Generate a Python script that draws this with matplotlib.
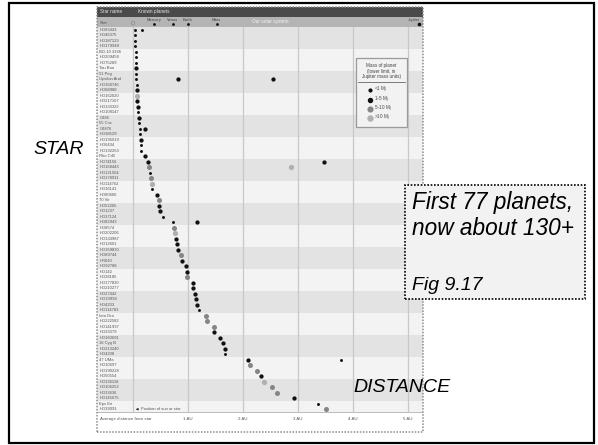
import matplotlib
matplotlib.use("Agg")
import matplotlib.pyplot as plt
from matplotlib.patches import Rectangle
from matplotlib.lines import Line2D

plt.rcParams['font.family'] = ['Liberation Sans', 'DejaVu Sans']

W, H = 598, 445

# ---------------- data ----------------
star_names = [
    "HD83443", "HD46375", "HD187123", "HD179949", "BD-10 3166", "HD209458",
    "HD75289", "Tau Boo", "51 Peg", "Upsilon And", "HD168746", "HD68988",
    "HD162020", "HD217107", "HD130322", "HD108147", "GJ86", "55 Cnc",
    "GJ876", "HD38529", "HD195019", "HD6434", "HD192263", "Rho CrB",
    "HD74156", "HD168443", "HD121504", "HD178911", "HD114762", "HD16141",
    "HD80606", "70 Vir", "HD52265", "HD1237", "HD37124", "HD82943",
    "HD8574", "HD202206", "HD134987", "HD12661", "HD169830", "HD89744",
    "HR810", "HD92788", "HD142", "HD28185", "HD177830", "HD210277",
    "HD27442", "HD19994", "HD4203", "HD114783", "Iota Dra", "HD222582",
    "HD141937", "HD23079", "HD160691", "16 Cyg B", "HD213240", "HD4208",
    "47 UMa", "HD10697", "HD190228", "HD50554", "HD136118", "HD106252",
    "HD33636", "HD145675", "Eps Eri", "HD39091",
]
# semi-major axes (AU) of the planets of each star
planet_au = [
    [0.04, 0.17], [0.04], [0.04], [0.045], [0.046], [0.046],
    [0.046], [0.05], [0.05], [0.06, 0.82, 2.55], [0.065], [0.07],
    [0.07], [0.07], [0.09], [0.10], [0.11], [0.11],
    [0.13, 0.21], [0.13], [0.14], [0.15], [0.15], [0.22],
    [0.27, 3.47], [0.29, 2.87], [0.31], [0.32], [0.35], [0.34],
    [0.43], [0.47], [0.48], [0.49], [0.54], [0.72, 1.16],
    [0.75], [0.76], [0.78], [0.80], [0.82], [0.87],
    [0.90], [0.96], [0.98], [0.99], [1.09], [1.10],
    [1.12], [1.14], [1.17], [1.20], [1.33], [1.35],
    [1.47], [1.47], [1.59], [1.64], [1.67], [1.68],
    [2.09, 3.79], [2.12], [2.25], [2.32], [2.38], [2.53],
    [2.62], [2.93], [3.36], [3.50],
]
# mass class: 0: <1 MJ, 1: 1-5 MJ, 2: 5-10 MJ, 3: >10 MJ
planet_mass = [
    [0, 0], [0], [0], [0], [0], [0],
    [0], [1], [0], [0, 1, 1], [0], [1],
    [3], [1], [1], [0], [1], [0],
    [0, 1], [0], [1], [0], [0], [1],
    [1, 1], [2, 3], [0], [2], [3], [0],
    [1], [2], [1], [1], [0], [0, 1],
    [2], [3], [1], [1], [1], [2],
    [1], [1], [1], [2], [1], [1],
    [1], [1], [1], [0], [2], [2],
    [2], [1], [1], [1], [1], [0],
    [1, 0], [2], [2], [1], [3], [2],
    [2], [1], [0], [2],
]
solar_names = ["Mercury", "Venus", "Earth", "Mars", "Jupiter"]
solar_au = [0.39, 0.72, 1.0, 1.52, 5.2]
au_ticks = [1, 2, 3, 4, 5]
au_tick_labels = ["1 AU", "2 AU", "3 AU", "4 AU", "5 AU"]
mass_labels = ["<1 M$_J$", "1\u20135 M$_J$", "5\u201310 M$_J$", ">10 M$_J$"]

# ---------------- styles ----------------
mass_color = ["#111111", "#111111", "#858585", "#b0b0b0"]
mass_size = [4.5, 9.5, 13.0, 14.5]

fig = plt.figure(figsize=(W / 100, H / 100), dpi=100)


def fx(px):
    return px / W


def fy(py):
    return 1 - py / H


# chart axes: x in AU, y in rows
L, R, T, B = 97, 423, 7, 432
ax = fig.add_axes([fx(L), fy(B), (R - L) / W, (B - T) / H])
ax.set_xlim(-0.6545, 5.2727)
ax.set_ylim(73.636, -3.636)
ax.axis("off")

n = len(star_names)

# alternating bands of four rows
for k in range((n + 3) // 4):
    top = 4 * k
    bot = min(4 * k + 4, n)
    ax.axhspan(top, bot, color="#e3e3e3" if k % 2 == 0 else "#f3f3f3", lw=0, zorder=0)

# header bars
ax.axhspan(-3.636, -1.85, color="#4a4a4a", lw=0, zorder=0)
ax.axhspan(-1.85, 0, color="#b4b4b4", lw=0, zorder=0)
ax.axhline(n, color="#b0b0b0", lw=0.6, zorder=1)

# vertical grid lines (star position + AU)
for t in [0] + au_ticks:
    ax.plot([t, t], [0, n], color="#c8c8c8", lw=0.9, zorder=1)

# planets
for i, (aus, ms) in enumerate(zip(planet_au, planet_mass)):
    for a, m in zip(aus, ms):
        ax.scatter(a, i + 0.5, s=mass_size[m], color=mass_color[m], lw=0, zorder=3)

# star names
for i, name in enumerate(star_names):
    ax.text(-0.61, i + 0.5, name, fontsize=3.0, color="#555555", va="center", ha="left")

# header text
ax.text(-0.60, -2.75, "Star name", fontsize=3.4, color="#e6e6e6", va="center")
ax.text(0.10, -2.75, "Known planets", fontsize=3.4, color="#e6e6e6", va="center")
ax.text(-0.60, -0.75, "Star", fontsize=3.2, color="#555555", va="center")
ax.scatter(0, -0.7, s=6, facecolor="none", edgecolor="#8a8a8a", lw=0.5, zorder=3)
for nm, a in zip(solar_names, solar_au):
    if nm == "Jupiter":
        ax.text(a + 0.02, -1.35, nm, fontsize=3.0, color="#444444", ha="right", va="center")
        ax.scatter(a, -0.55, s=7, color="#111111", lw=0, zorder=3)
    else:
        ax.text(a, -1.35, nm, fontsize=3.0, color="#444444", ha="center", va="center")
        ax.scatter(a, -0.55, s=4, color="#111111", lw=0, zorder=3)
ax.text(2.5, -1.0, "Our solar system", fontsize=3.4, color="#f5f5f5", ha="center", va="center")

# x-axis labels
ax.text(-0.60, 71.3, "Average distance from star", fontsize=3.2, color="#555555", va="center")
for t, lab in zip(au_ticks, au_tick_labels):
    ax.text(t, 71.3, lab, fontsize=3.2, color="#555555", ha="center", va="center")

# position of sun or star note (last row)
ax.annotate("", xy=(0.0, n - 0.5), xytext=(0.13, n - 0.5),
            arrowprops=dict(arrowstyle="-|>", color="#222222", lw=0.5, mutation_scale=3))
ax.text(0.15, n - 0.5, "Position of sun or star", fontsize=3.0, color="#555555", va="center")

# dotted border of the chart
fig.patches.append(Rectangle((fx(L), fy(B)), (R - L) / W, (B - T) / H,
                             transform=fig.transFigure, fill=False,
                             edgecolor="#8c8c8c", lw=1.1, linestyle=(0, (1, 1)), zorder=5))

# legend box (mass of planet)
lx0, lx1, ly0, ly1 = 356, 407, 58, 127
fig.patches.append(Rectangle((fx(lx0), fy(ly1)), (lx1 - lx0) / W, (ly1 - ly0) / H,
                             transform=fig.transFigure, facecolor="#f2f2f2",
                             edgecolor="#9a9a9a", lw=0.9, zorder=6))
for txt, yy in zip(["Mass of planet", "(lower limit, in", "Jupiter mass units)"], [65, 71, 76.5]):
    fig.text(fx(381.5), fy(yy), txt, fontsize=3.3, color="#444444", ha="center", va="center", zorder=7)
fig.lines.append(Line2D([fx(358), fx(405)], [fy(81.5), fy(81.5)], transform=fig.transFigure,
                        color="#666666", lw=0.6, zorder=7))
for m, (lab, yy) in enumerate(zip(mass_labels, [90, 99.5, 109, 118])):
    fig.lines.append(Line2D([fx(369.5)], [fy(yy)], transform=fig.transFigure, marker="o",
                            markersize=[2.0, 2.9, 3.4, 3.6][m], color=mass_color[m], lw=0, zorder=7))
    fig.text(fx(374), fy(yy), lab, fontsize=3.3, color="#444444", ha="left", va="center", zorder=7)

# outer slide frame
fig.patches.append(Rectangle((fx(9), fy(443)), (594 - 9) / W, (443 - 3) / H,
                             transform=fig.transFigure, fill=False, edgecolor="black",
                             lw=1.6, zorder=8))

# annotations
fig.text(fx(59), fy(150), "STAR", fontsize=14, style="italic", color="black",
         ha="center", va="center", zorder=9)
fig.text(fx(402), fy(388), "DISTANCE", fontsize=14, style="italic", color="black",
         ha="center", va="center", zorder=9)

fig.patches.append(Rectangle((fx(405), fy(299)), (585 - 405) / W, (299 - 185) / H,
                             transform=fig.transFigure, facecolor="#f2f2f2",
                             edgecolor="black", lw=1.2, linestyle=(0, (1, 1)), zorder=8))
fig.text(fx(412), fy(209), "First 77 planets,", fontsize=16.3, style="italic",
         ha="left", va="baseline", zorder=9)
fig.text(fx(412), fy(235), "now about 130+", fontsize=16.3, style="italic",
         ha="left", va="baseline", zorder=9)
fig.text(fx(412), fy(290), "Fig 9.17", fontsize=14, style="italic",
         ha="left", va="baseline", zorder=9)

fig.savefig("out.png", dpi=100, facecolor="white")
